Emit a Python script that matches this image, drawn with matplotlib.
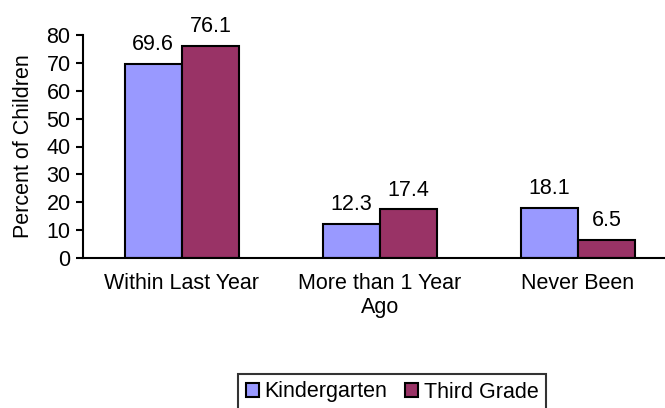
import matplotlib
matplotlib.use("Agg")
import matplotlib.pyplot as plt
import numpy as np

categories = ["Within Last Year", "More than 1 Year\nAgo", "Never Been"]
kindergarten = [69.6, 12.3, 18.1]
third_grade = [76.1, 17.4, 6.5]

plt.rcParams["font.family"] = ["Liberation Sans", "DejaVu Sans"]
plt.rcParams["font.size"] = 15.5

W, H = 665, 408
fig = plt.figure(figsize=(W / 100, H / 100), dpi=100)
ax = fig.add_axes([83 / W, 150 / H, 594 / W, 223 / H])

x = np.arange(len(categories))
w = 0.29
b1 = ax.bar(x - w / 2, kindergarten, w, color="#9999FF", edgecolor="black",
            linewidth=1.5, label="Kindergarten")
b2 = ax.bar(x + w / 2, third_grade, w, color="#993366", edgecolor="black",
            linewidth=1.5, label="Third Grade")
for bars, vals in ((b1, kindergarten), (b2, third_grade)):
    for r, v in zip(bars, vals):
        ax.text(r.get_x() + r.get_width() / 2, v + 3.2, f"{v:.1f}",
                ha="center", va="bottom")

ax.set_xlim(-0.5, 2.5)
ax.set_ylim(0, 80)
ax.set_yticks(range(0, 81, 10))
ax.set_xticks(x)
ax.set_xticklabels(categories, linespacing=1.2)
ax.tick_params(axis="x", length=0, pad=11)
ax.tick_params(axis="y", length=5, width=1.5, direction="out", pad=4)
ax.set_ylabel("Percent of Children", labelpad=9)
for s in ("top", "right"):
    ax.spines[s].set_visible(False)
for s in ("left", "bottom"):
    ax.spines[s].set_linewidth(1.5)

leg = fig.legend(loc="center", bbox_to_anchor=(392 / W, 1 - 392 / H), ncol=2,
                 frameon=True, fancybox=False, handlelength=0.6,
                 handleheight=0.6, handletextpad=0.25, columnspacing=0.85,
                 borderpad=0.35, borderaxespad=0.3)
leg.get_frame().set_edgecolor("black")
leg.get_frame().set_linewidth(1.5)

fig.savefig("out.png", dpi=100)
